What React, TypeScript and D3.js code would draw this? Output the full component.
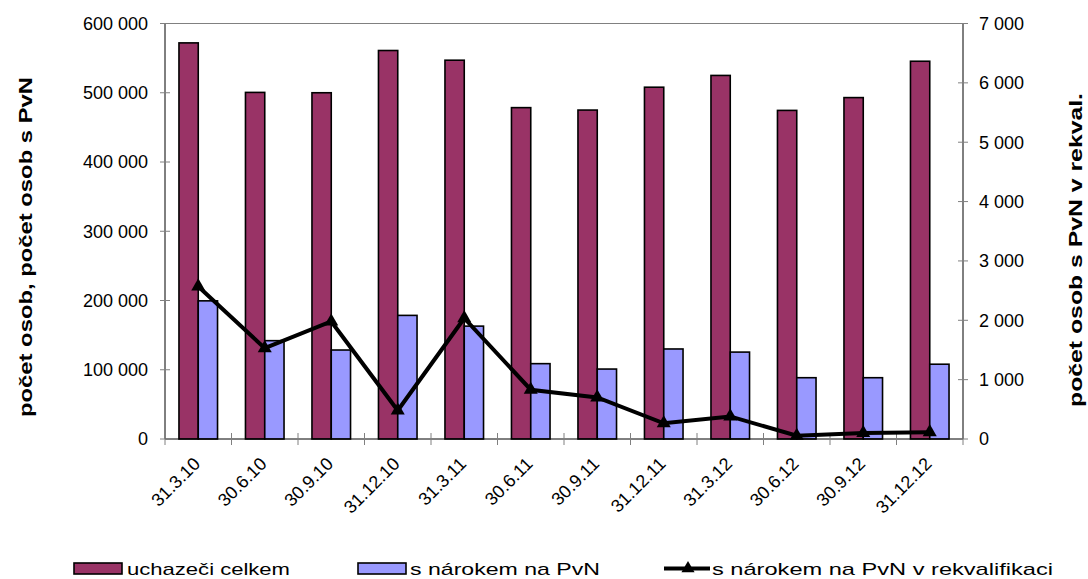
import React from 'react';
import * as d3 from 'd3';

const categories = ['31.3.10', '30.6.10', '30.9.10', '31.12.10', '31.3.11', '30.6.11', '30.9.11', '31.12.11', '31.3.12', '30.6.12', '30.9.12', '31.12.12'];
const uchazeciCelkem = [572000, 500500, 500000, 561000, 547000, 478500, 475000, 508000, 525000, 474500, 493000, 545500];
const sNarokem = [199500, 142000, 128500, 178500, 163000, 108800, 101000, 130000, 125500, 88500, 88500, 108000];
const vRekvalifikaci = [2570, 1530, 1980, 480, 2035, 830, 700, 265, 380, 55, 100, 115];
const leftTicks = [0, 100000, 200000, 300000, 400000, 500000, 600000];
const rightTicks = [0, 1000, 2000, 3000, 4000, 5000, 6000, 7000];
const seriesNames = ['uchazeči celkem', 's nárokem na PvN', 's nárokem na PvN v rekvalifikaci'];
const leftTitle = 'počet osob, počet osob s PvN';
const rightTitle = 'počet osob s PvN v rekval.';

const MAROON = '#993366';
const BLUE = '#9999FF';
const FONT = '"Liberation Sans", Arial, sans-serif';

export default function App() {
  const W = 1088, H = 579;
  const left = 165, right = 963, top = 23.5, bottom = 439;

  const x = d3.scaleBand<string>().domain(categories).range([left, right]).paddingInner(0.42).paddingOuter(0.21);
  const sub = d3.scaleBand<string>().domain(['u', 'n']).range([0, x.bandwidth()]);
  const yL = d3.scaleLinear().domain([0, 600000]).range([bottom, top]);
  const yR = d3.scaleLinear().domain([0, 7000]).range([bottom, top]);
  const fmt = (v: number) => d3.format(',')(v).replace(/,/g, ' ');

  const cx = (c: string) => (x(c) as number) + x.bandwidth() / 2;
  const line = d3.line<number>().x((_, i) => cx(categories[i])).y(d => yR(d));
  const tri = d3.symbol().type(d3.symbolTriangle).size(85)() as string;
  const triSmall = d3.symbol().type(d3.symbolTriangle).size(75)() as string;

  const boundaries = d3.range(categories.length + 1).map(i => left + i * x.step());

  return (
    <svg width={W} height={H} style={{ position: 'absolute', left: 0, top: 0, background: '#fff' }} fontFamily={FONT}>
      <rect x={0} y={0} width={W} height={H} fill="#fff" />
      {/* bars */}
      {categories.map((c, i) => (
        <g key={c}>
          <rect x={(x(c) as number) + (sub('u') as number)} y={yL(uchazeciCelkem[i])} width={sub.bandwidth()} height={bottom - yL(uchazeciCelkem[i])} fill={MAROON} stroke="#000" strokeWidth={1.6} />
          <rect x={(x(c) as number) + (sub('n') as number)} y={yL(sNarokem[i])} width={sub.bandwidth()} height={bottom - yL(sNarokem[i])} fill={BLUE} stroke="#000" strokeWidth={1.6} />
        </g>
      ))}
      {/* frame */}
      <line x1={left} x2={right} y1={top} y2={top} stroke="#808080" strokeWidth={1.2} />
      <line x1={left} x2={left} y1={top} y2={bottom} stroke="#000" strokeWidth={1} />
      <line x1={right} x2={right} y1={top} y2={bottom} stroke="#000" strokeWidth={1} />
      <line x1={left} x2={right} y1={bottom} y2={bottom} stroke="#000" strokeWidth={1} />
      {/* x ticks */}
      {boundaries.map((b, i) => (
        <line key={i} x1={b} x2={b} y1={bottom - 6} y2={bottom + 6} stroke="#808080" strokeWidth={1} />
      ))}
      {/* left axis */}
      {leftTicks.map(t => (
        <g key={t}>
          <line x1={left - 5} x2={left + 5} y1={yL(t)} y2={yL(t)} stroke="#808080" strokeWidth={1} />
          <text x={148} y={yL(t)} dy="0.36em" textAnchor="end" fontSize={18} fill="#000">{fmt(t)}</text>
        </g>
      ))}
      {/* right axis */}
      {rightTicks.map(t => (
        <g key={t}>
          <line x1={right - 5} x2={right + 5} y1={yR(t)} y2={yR(t)} stroke="#808080" strokeWidth={1} />
          <text x={979} y={yR(t)} dy="0.36em" textAnchor="start" fontSize={18} fill="#000">{fmt(t)}</text>
        </g>
      ))}
      {/* x labels */}
      {categories.map(c => (
        <text key={c} transform={`translate(${cx(c) + 3},${465}) rotate(-45)`} textAnchor="end" fontSize={18} fill="#000">{c}</text>
      ))}
      {/* line series */}
      <path d={line(vRekvalifikaci) as string} fill="none" stroke="#000" strokeWidth={4} strokeLinejoin="miter" />
      {vRekvalifikaci.map((v, i) => (
        <path key={i} d={tri} transform={`translate(${cx(categories[i])},${yR(v)})`} fill="#000" />
      ))}
      {/* axis titles */}
      <text transform={`translate(32,247) rotate(-90)`} textAnchor="middle" fontSize={19} fontWeight="bold" textLength={340} lengthAdjust="spacingAndGlyphs" fill="#000">{leftTitle}</text>
      <text transform={`translate(1082,250) rotate(-90)`} textAnchor="middle" fontSize={19} fontWeight="bold" textLength={314} lengthAdjust="spacingAndGlyphs" fill="#000">{rightTitle}</text>
      {/* legend */}
      <rect x={74} y={563} width={48} height={11} fill={MAROON} stroke="#000" strokeWidth={1.6} />
      <text x={127} y={575} fontSize={17} textLength={163} lengthAdjust="spacingAndGlyphs" fill="#000">{seriesNames[0]}</text>
      <rect x={358} y={563} width={48} height={11} fill={BLUE} stroke="#000" strokeWidth={1.6} />
      <text x={410} y={575} fontSize={17} textLength={190} lengthAdjust="spacingAndGlyphs" fill="#000">{seriesNames[1]}</text>
      <line x1={664} x2={710} y1={568.5} y2={568.5} stroke="#000" strokeWidth={4} />
      <path d={triSmall} transform="translate(688,568.5)" fill="#000" />
      <text x={712} y={575} fontSize={17} textLength={341} lengthAdjust="spacingAndGlyphs" fill="#000">{seriesNames[2]}</text>
    </svg>
  );
}
